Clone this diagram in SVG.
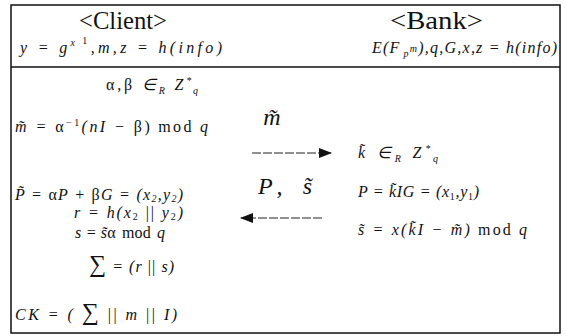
<svg xmlns="http://www.w3.org/2000/svg" width="566" height="336" viewBox="0 0 566 336">
<style>
.f{fill:none;stroke:#111;stroke-width:1.5}
.h{font-family:"Liberation Serif",serif;font-size:25px;fill:#111}
.m{font-family:"Liberation Serif",serif;font-style:italic;font-size:16px;fill:#111}
.r{font-style:normal}
.s{font-size:10px}
.big{font-family:"Liberation Serif",serif;font-style:italic;font-size:24px;fill:#111}
.d{stroke:#222;stroke-width:1;stroke-dasharray:9,2}
</style>
<defs>
<marker id="ah" viewBox="0 0 13 10" refX="12" refY="5" markerWidth="13" markerHeight="10" markerUnits="userSpaceOnUse" orient="auto">
<path d="M0,0 L13,5 L0,10 Z" fill="#111"/>
</marker>
</defs>
<rect class="f" x="11" y="5" width="549" height="328"/>
<line class="f" x1="11" y1="67" x2="560" y2="67"/>
<g id="client">
<text class="h" x="79" y="29" textLength="88" lengthAdjust="spacingAndGlyphs">&lt;Client&gt;</text>
<text class="m" x="20" y="53" textLength="202" lengthAdjust="spacing">y = g<tspan class="s" dy="-7">x</tspan><tspan class="s r" dx="4" dy="-2">1</tspan><tspan dy="9">,m,z = h(info)</tspan></text>
<text class="m" x="106" y="90" textLength="92" lengthAdjust="spacing"><tspan class="r">α,β</tspan> ∈<tspan class="s" dy="4">R</tspan><tspan dy="-4"> Z</tspan><tspan class="s" dy="-6">*</tspan><tspan class="s" dx="-1" dy="10">q</tspan></text>
<text class="m" x="15" y="132" textLength="193" lengthAdjust="spacing">m̃ = <tspan class="r">α</tspan><tspan class="s r" dy="-6">−1</tspan><tspan dy="6">(nI − </tspan><tspan class="r">β)</tspan><tspan class="r" dx="6">mod</tspan><tspan dx="6">q</tspan></text>
<text class="m" x="15" y="200" textLength="168" lengthAdjust="spacing">P̃ = <tspan class="r">α</tspan>P + <tspan class="r">β</tspan>G = (x<tspan class="s" dy="2">2</tspan><tspan dy="-2">,y</tspan><tspan class="s" dy="2">2</tspan><tspan dy="-2">)</tspan></text>
<text class="m" x="74" y="218" textLength="109" lengthAdjust="spacing">r = h(x<tspan class="s r" dy="2">2</tspan><tspan dy="-2"> <tspan class="r">||</tspan> y</tspan><tspan class="s r" dy="2">2</tspan><tspan dy="-2">)</tspan></text>
<text class="m" x="75" y="238" textLength="90" lengthAdjust="spacing">s = s̃<tspan class="r">α</tspan><tspan class="r" dx="6">mod</tspan><tspan dx="6">q</tspan></text>
<text class="m" x="89" y="272" textLength="85" lengthAdjust="spacing"><tspan class="r" font-size="24">∑</tspan> = (r <tspan class="r">||</tspan> s)</text>
<text class="m" x="15" y="320" textLength="162" lengthAdjust="spacing">CK = ( <tspan class="r" font-size="24">∑</tspan> <tspan class="r">||</tspan> m <tspan class="r">||</tspan> I)</text>
</g>
<g id="bank">
<text class="h" x="390" y="29" textLength="93" lengthAdjust="spacingAndGlyphs">&lt;Bank&gt;</text>
<text class="m" x="372" y="53" textLength="185" lengthAdjust="spacing">E(F<tspan class="s" dx="3" dy="4">p</tspan><tspan class="s" dy="-5" font-size="7">m</tspan><tspan dy="1">),q,G,x,z = h(info)</tspan></text>
<text class="m" x="358" y="158" textLength="80" lengthAdjust="spacing">k̃ ∈<tspan class="s" dy="4">R</tspan><tspan dy="-4"> Z</tspan><tspan class="s" dy="-6">*</tspan><tspan class="s" dx="-1" dy="10">q</tspan></text>
<text class="m" x="358" y="197" textLength="121" lengthAdjust="spacing">P = k̃IG = (x<tspan class="s r" dy="3">1</tspan><tspan dy="-3">,y</tspan><tspan class="s r" dy="3">1</tspan><tspan dy="-3">)</tspan></text>
<text class="m" x="358" y="235" textLength="169" lengthAdjust="spacing">s̃ = x(k̃I − m̃)<tspan class="r" dx="6">mod</tspan><tspan dx="6">q</tspan></text>
</g>
<g id="connectors">
<line class="d" x1="252" y1="153" x2="331" y2="153" marker-end="url(#ah)"/>
<text class="big" x="272" y="125" text-anchor="middle">m̃</text>
<line class="d" x1="322" y1="218" x2="241" y2="218" marker-end="url(#ah)"/>
<text class="big" x="258" y="194" textLength="54" lengthAdjust="spacing">P, s̃</text>
</g>
</svg>
